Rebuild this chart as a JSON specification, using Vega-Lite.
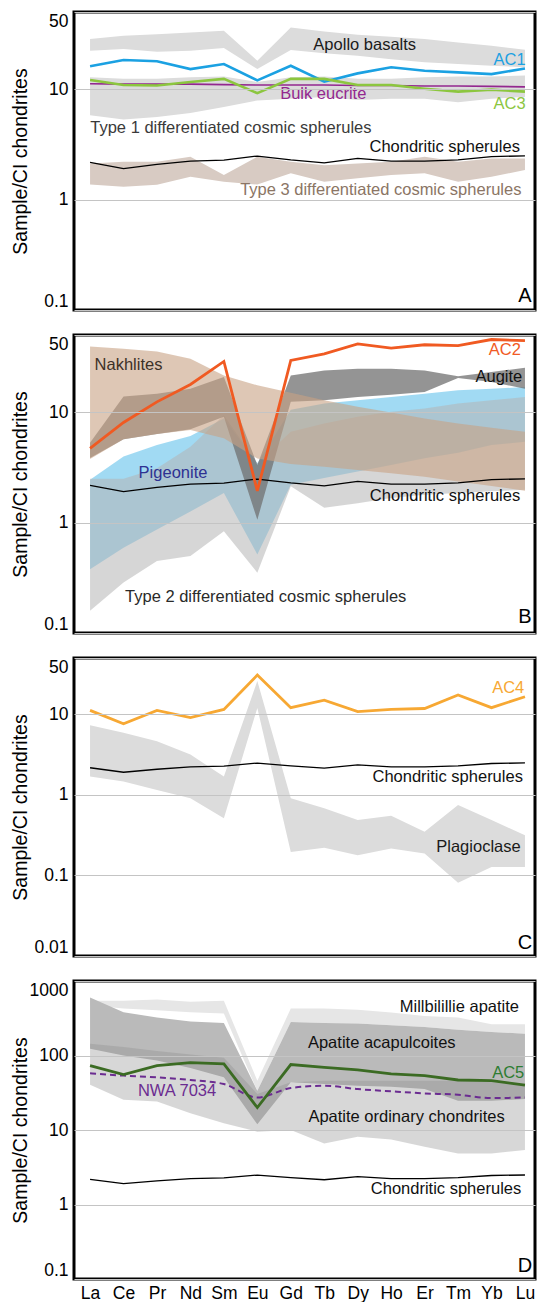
{
  "$schema": "https://vega.github.io/schema/vega-lite/v6.json",
  "background": "white",
  "padding": {"left": 8, "top": 10, "right": 2, "bottom": 0},
  "spacing": 25,
  "bounds": "flush",
  "config": {
    "font": "Liberation Sans",
    "view": {"stroke": "#000000", "strokeWidth": 3},
    "axis": {"labelFont": "Liberation Sans", "titleFont": "Liberation Sans"},
    "text": {"font": "Liberation Sans"}
  },
  "datasets": {
    "chondrite": [
      {"el": "La", "i": 0, "v": 2.17}, {"el": "Ce", "i": 1, "v": 1.91}, {"el": "Pr", "i": 2, "v": 2.08},
      {"el": "Nd", "i": 3, "v": 2.23}, {"el": "Sm", "i": 4, "v": 2.28}, {"el": "Eu", "i": 5, "v": 2.48},
      {"el": "Gd", "i": 6, "v": 2.29}, {"el": "Tb", "i": 7, "v": 2.15}, {"el": "Dy", "i": 8, "v": 2.36},
      {"el": "Ho", "i": 9, "v": 2.23}, {"el": "Er", "i": 10, "v": 2.23}, {"el": "Tm", "i": 11, "v": 2.29},
      {"el": "Yb", "i": 12, "v": 2.45}, {"el": "Lu", "i": 13, "v": 2.49}
    ],
    "profiles": [
      {"series": "AC1", "el": "La", "i": 0, "v": 16.1}, {"series": "AC1", "el": "Ce", "i": 1, "v": 18.4},
      {"series": "AC1", "el": "Pr", "i": 2, "v": 17.9}, {"series": "AC1", "el": "Nd", "i": 3, "v": 15.2},
      {"series": "AC1", "el": "Sm", "i": 4, "v": 16.9}, {"series": "AC1", "el": "Eu", "i": 5, "v": 12.0},
      {"series": "AC1", "el": "Gd", "i": 6, "v": 16.3}, {"series": "AC1", "el": "Tb", "i": 7, "v": 11.7},
      {"series": "AC1", "el": "Dy", "i": 8, "v": 13.9}, {"series": "AC1", "el": "Ho", "i": 9, "v": 15.8},
      {"series": "AC1", "el": "Er", "i": 10, "v": 14.7}, {"series": "AC1", "el": "Tm", "i": 11, "v": 14.2},
      {"series": "AC1", "el": "Yb", "i": 12, "v": 13.7}, {"series": "AC1", "el": "Lu", "i": 13, "v": 15.4},

      {"series": "AC3", "el": "La", "i": 0, "v": 12.1}, {"series": "AC3", "el": "Ce", "i": 1, "v": 10.9},
      {"series": "AC3", "el": "Pr", "i": 2, "v": 10.8}, {"series": "AC3", "el": "Nd", "i": 3, "v": 11.6},
      {"series": "AC3", "el": "Sm", "i": 4, "v": 12.4}, {"series": "AC3", "el": "Eu", "i": 5, "v": 9.2},
      {"series": "AC3", "el": "Gd", "i": 6, "v": 12.4}, {"series": "AC3", "el": "Tb", "i": 7, "v": 12.4},
      {"series": "AC3", "el": "Dy", "i": 8, "v": 10.9}, {"series": "AC3", "el": "Ho", "i": 9, "v": 10.9},
      {"series": "AC3", "el": "Er", "i": 10, "v": 10.1}, {"series": "AC3", "el": "Tm", "i": 11, "v": 9.5},
      {"series": "AC3", "el": "Yb", "i": 12, "v": 9.9}, {"series": "AC3", "el": "Lu", "i": 13, "v": 9.5},

      {"series": "Bulk eucrite", "el": "La", "i": 0, "v": 11.2}, {"series": "Bulk eucrite", "el": "Ce", "i": 1, "v": 11.1},
      {"series": "Bulk eucrite", "el": "Pr", "i": 2, "v": 11.1}, {"series": "Bulk eucrite", "el": "Nd", "i": 3, "v": 11.1},
      {"series": "Bulk eucrite", "el": "Sm", "i": 4, "v": 11.0}, {"series": "Bulk eucrite", "el": "Eu", "i": 5, "v": 10.9},
      {"series": "Bulk eucrite", "el": "Gd", "i": 6, "v": 10.9}, {"series": "Bulk eucrite", "el": "Tb", "i": 7, "v": 10.9},
      {"series": "Bulk eucrite", "el": "Dy", "i": 8, "v": 10.8}, {"series": "Bulk eucrite", "el": "Ho", "i": 9, "v": 10.8},
      {"series": "Bulk eucrite", "el": "Er", "i": 10, "v": 10.7}, {"series": "Bulk eucrite", "el": "Tm", "i": 11, "v": 10.7},
      {"series": "Bulk eucrite", "el": "Yb", "i": 12, "v": 10.6}, {"series": "Bulk eucrite", "el": "Lu", "i": 13, "v": 10.5},

      {"series": "AC2", "el": "La", "i": 0, "v": 4.71}, {"series": "AC2", "el": "Ce", "i": 1, "v": 8.07},
      {"series": "AC2", "el": "Pr", "i": 2, "v": 12.4}, {"series": "AC2", "el": "Nd", "i": 3, "v": 17.8},
      {"series": "AC2", "el": "Sm", "i": 4, "v": 28.8}, {"series": "AC2", "el": "Eu", "i": 5, "v": 1.94},
      {"series": "AC2", "el": "Gd", "i": 6, "v": 29.4}, {"series": "AC2", "el": "Tb", "i": 7, "v": 33.8},
      {"series": "AC2", "el": "Dy", "i": 8, "v": 41.6}, {"series": "AC2", "el": "Ho", "i": 9, "v": 38.0},
      {"series": "AC2", "el": "Er", "i": 10, "v": 40.8}, {"series": "AC2", "el": "Tm", "i": 11, "v": 40.1},
      {"series": "AC2", "el": "Yb", "i": 12, "v": 45.5}, {"series": "AC2", "el": "Lu", "i": 13, "v": 44.5},

      {"series": "AC4", "el": "La", "i": 0, "v": 11.2}, {"series": "AC4", "el": "Ce", "i": 1, "v": 7.65},
      {"series": "AC4", "el": "Pr", "i": 2, "v": 11.2}, {"series": "AC4", "el": "Nd", "i": 3, "v": 9.09},
      {"series": "AC4", "el": "Sm", "i": 4, "v": 11.5}, {"series": "AC4", "el": "Eu", "i": 5, "v": 30.7},
      {"series": "AC4", "el": "Gd", "i": 6, "v": 12.1}, {"series": "AC4", "el": "Tb", "i": 7, "v": 15.0},
      {"series": "AC4", "el": "Dy", "i": 8, "v": 10.8}, {"series": "AC4", "el": "Ho", "i": 9, "v": 11.5},
      {"series": "AC4", "el": "Er", "i": 10, "v": 11.8}, {"series": "AC4", "el": "Tm", "i": 11, "v": 17.4},
      {"series": "AC4", "el": "Yb", "i": 12, "v": 12.1}, {"series": "AC4", "el": "Lu", "i": 13, "v": 16.5},

      {"series": "AC5", "el": "La", "i": 0, "v": 73.3}, {"series": "AC5", "el": "Ce", "i": 1, "v": 55.4},
      {"series": "AC5", "el": "Pr", "i": 2, "v": 73.3}, {"series": "AC5", "el": "Nd", "i": 3, "v": 80.4},
      {"series": "AC5", "el": "Sm", "i": 4, "v": 77.2}, {"series": "AC5", "el": "Eu", "i": 5, "v": 20.0},
      {"series": "AC5", "el": "Gd", "i": 6, "v": 75.6}, {"series": "AC5", "el": "Tb", "i": 7, "v": 69.5},
      {"series": "AC5", "el": "Dy", "i": 8, "v": 64.0}, {"series": "AC5", "el": "Ho", "i": 9, "v": 56.5},
      {"series": "AC5", "el": "Er", "i": 10, "v": 53.7}, {"series": "AC5", "el": "Tm", "i": 11, "v": 46.9},
      {"series": "AC5", "el": "Yb", "i": 12, "v": 45.9}, {"series": "AC5", "el": "Lu", "i": 13, "v": 40.1},

      {"series": "NWA 7034", "el": "La", "i": 0, "v": 57.7}, {"series": "NWA 7034", "el": "Ce", "i": 1, "v": 53.7},
      {"series": "NWA 7034", "el": "Pr", "i": 2, "v": 51.0}, {"series": "NWA 7034", "el": "Nd", "i": 3, "v": 46.9},
      {"series": "NWA 7034", "el": "Sm", "i": 4, "v": 41.4}, {"series": "NWA 7034", "el": "Eu", "i": 5, "v": 27.3},
      {"series": "NWA 7034", "el": "Gd", "i": 6, "v": 36.6}, {"series": "NWA 7034", "el": "Tb", "i": 7, "v": 39.3},
      {"series": "NWA 7034", "el": "Dy", "i": 8, "v": 35.4}, {"series": "NWA 7034", "el": "Ho", "i": 9, "v": 33.0},
      {"series": "NWA 7034", "el": "Er", "i": 10, "v": 31.0}, {"series": "NWA 7034", "el": "Tm", "i": 11, "v": 29.7},
      {"series": "NWA 7034", "el": "Yb", "i": 12, "v": 26.8}, {"series": "NWA 7034", "el": "Lu", "i": 13, "v": 27.3}
    ],
    "ranges": [
      {"band": "Apollo basalts", "el": "La", "i": 0, "v": 22.3, "v2": 28.4}, {"band": "Apollo basalts", "el": "Ce", "i": 1, "v": 23.1, "v2": 30.4},
      {"band": "Apollo basalts", "el": "Pr", "i": 2, "v": 21.8, "v2": 31.5}, {"band": "Apollo basalts", "el": "Nd", "i": 3, "v": 22.3, "v2": 32.6},
      {"band": "Apollo basalts", "el": "Sm", "i": 4, "v": 23.6, "v2": 33.8}, {"band": "Apollo basalts", "el": "Eu", "i": 5, "v": 15.2, "v2": 18.1},
      {"band": "Apollo basalts", "el": "Gd", "i": 6, "v": 22.6, "v2": 36.2}, {"band": "Apollo basalts", "el": "Tb", "i": 7, "v": 21.1, "v2": 33.3},
      {"band": "Apollo basalts", "el": "Dy", "i": 8, "v": 20.1, "v2": 31.1}, {"band": "Apollo basalts", "el": "Ho", "i": 9, "v": 18.7, "v2": 29.8},
      {"band": "Apollo basalts", "el": "Er", "i": 10, "v": 17.5, "v2": 28.4}, {"band": "Apollo basalts", "el": "Tm", "i": 11, "v": 16.9, "v2": 26.5},
      {"band": "Apollo basalts", "el": "Yb", "i": 12, "v": 16.3, "v2": 24.7}, {"band": "Apollo basalts", "el": "Lu", "i": 13, "v": 15.8, "v2": 22.8},

      {"band": "Type 1", "el": "La", "i": 0, "v": 5.8, "v2": 12.8}, {"band": "Type 1", "el": "Ce", "i": 1, "v": 5.3, "v2": 12.4},
      {"band": "Type 1", "el": "Pr", "i": 2, "v": 5.6, "v2": 12.4}, {"band": "Type 1", "el": "Nd", "i": 3, "v": 6.1, "v2": 12.8},
      {"band": "Type 1", "el": "Sm", "i": 4, "v": 6.9, "v2": 13.0}, {"band": "Type 1", "el": "Eu", "i": 5, "v": 7.9, "v2": 11.6},
      {"band": "Type 1", "el": "Gd", "i": 6, "v": 8.2, "v2": 12.8}, {"band": "Type 1", "el": "Tb", "i": 7, "v": 8.5, "v2": 13.0},
      {"band": "Type 1", "el": "Dy", "i": 8, "v": 8.0, "v2": 12.4}, {"band": "Type 1", "el": "Ho", "i": 9, "v": 8.2, "v2": 12.4},
      {"band": "Type 1", "el": "Er", "i": 10, "v": 8.2, "v2": 12.8}, {"band": "Type 1", "el": "Tm", "i": 11, "v": 7.6, "v2": 13.0},
      {"band": "Type 1", "el": "Yb", "i": 12, "v": 8.2, "v2": 13.0}, {"band": "Type 1", "el": "Lu", "i": 13, "v": 8.5, "v2": 13.3},

      {"band": "Type 3", "el": "La", "i": 0, "v": 1.37, "v2": 2.12}, {"band": "Type 3", "el": "Ce", "i": 1, "v": 1.31, "v2": 2.2},
      {"band": "Type 3", "el": "Pr", "i": 2, "v": 1.36, "v2": 2.2}, {"band": "Type 3", "el": "Nd", "i": 3, "v": 1.61, "v2": 2.44},
      {"band": "Type 3", "el": "Sm", "i": 4, "v": 1.45, "v2": 1.67}, {"band": "Type 3", "el": "Eu", "i": 5, "v": 1.37, "v2": 2.44},
      {"band": "Type 3", "el": "Gd", "i": 6, "v": 1.73, "v2": 2.2}, {"band": "Type 3", "el": "Tb", "i": 7, "v": 1.45, "v2": 2.05},
      {"band": "Type 3", "el": "Dy", "i": 8, "v": 1.56, "v2": 2.12}, {"band": "Type 3", "el": "Ho", "i": 9, "v": 1.67, "v2": 2.2},
      {"band": "Type 3", "el": "Er", "i": 10, "v": 1.73, "v2": 2.44}, {"band": "Type 3", "el": "Tm", "i": 11, "v": 1.45, "v2": 2.2},
      {"band": "Type 3", "el": "Yb", "i": 12, "v": 1.61, "v2": 2.36}, {"band": "Type 3", "el": "Lu", "i": 13, "v": 1.85, "v2": 2.36},

      {"band": "Nakhlites", "el": "La", "i": 0, "v": 3.77, "v2": 39.3}, {"band": "Nakhlites", "el": "Ce", "i": 1, "v": 5.7, "v2": 37.5},
      {"band": "Nakhlites", "el": "Pr", "i": 2, "v": 6.35, "v2": 35.5}, {"band": "Nakhlites", "el": "Nd", "i": 3, "v": 6.9, "v2": 30.4},
      {"band": "Nakhlites", "el": "Sm", "i": 4, "v": 5.8, "v2": 21.5}, {"band": "Nakhlites", "el": "Eu", "i": 5, "v": 3.8, "v2": 17.5},
      {"band": "Nakhlites", "el": "Gd", "i": 6, "v": 3.4, "v2": 15.0}, {"band": "Nakhlites", "el": "Tb", "i": 7, "v": 3.2, "v2": 12.8},
      {"band": "Nakhlites", "el": "Dy", "i": 8, "v": 3.0, "v2": 11.2}, {"band": "Nakhlites", "el": "Ho", "i": 9, "v": 2.8, "v2": 9.93},
      {"band": "Nakhlites", "el": "Er", "i": 10, "v": 2.6, "v2": 8.77}, {"band": "Nakhlites", "el": "Tm", "i": 11, "v": 2.35, "v2": 7.91},
      {"band": "Nakhlites", "el": "Yb", "i": 12, "v": 2.15, "v2": 7.22}, {"band": "Nakhlites", "el": "Lu", "i": 13, "v": 1.94, "v2": 6.65},

      {"band": "Augite", "el": "La", "i": 0, "v": 3.85, "v2": 5.29}, {"band": "Augite", "el": "Ce", "i": 1, "v": 5.7, "v2": 13.9},
      {"band": "Augite", "el": "Pr", "i": 2, "v": 6.35, "v2": 14.7}, {"band": "Augite", "el": "Nd", "i": 3, "v": 7.0, "v2": 16.3},
      {"band": "Augite", "el": "Sm", "i": 4, "v": 9.08, "v2": 20.8}, {"band": "Augite", "el": "Eu", "i": 5, "v": 1.06, "v2": 3.33},
      {"band": "Augite", "el": "Gd", "i": 6, "v": 12.4, "v2": 21.5}, {"band": "Augite", "el": "Tb", "i": 7, "v": 12.8, "v2": 23.9},
      {"band": "Augite", "el": "Dy", "i": 8, "v": 13.7, "v2": 24.7}, {"band": "Augite", "el": "Ho", "i": 9, "v": 14.4, "v2": 24.7},
      {"band": "Augite", "el": "Er", "i": 10, "v": 15.2, "v2": 23.9}, {"band": "Augite", "el": "Tm", "i": 11, "v": 20.4, "v2": 21.2},
      {"band": "Augite", "el": "Yb", "i": 12, "v": 18.8, "v2": 23.1}, {"band": "Augite", "el": "Lu", "i": 13, "v": 16.3, "v2": 25.3},

      {"band": "Pigeonite", "el": "La", "i": 0, "v": 0.377, "v2": 2.44}, {"band": "Pigeonite", "el": "Ce", "i": 1, "v": 0.591, "v2": 3.96},
      {"band": "Pigeonite", "el": "Pr", "i": 2, "v": 0.865, "v2": 5.04}, {"band": "Pigeonite", "el": "Nd", "i": 3, "v": 1.26, "v2": 6.08},
      {"band": "Pigeonite", "el": "Sm", "i": 4, "v": 1.85, "v2": 8.77}, {"band": "Pigeonite", "el": "Eu", "i": 5, "v": 0.515, "v2": 3.45},
      {"band": "Pigeonite", "el": "Gd", "i": 6, "v": 2.2, "v2": 10.5}, {"band": "Pigeonite", "el": "Tb", "i": 7, "v": 2.53, "v2": 12.0},
      {"band": "Pigeonite", "el": "Dy", "i": 8, "v": 2.9, "v2": 12.8}, {"band": "Pigeonite", "el": "Ho", "i": 9, "v": 3.33, "v2": 13.7},
      {"band": "Pigeonite", "el": "Er", "i": 10, "v": 3.83, "v2": 14.7}, {"band": "Pigeonite", "el": "Tm", "i": 11, "v": 4.3, "v2": 15.8},
      {"band": "Pigeonite", "el": "Yb", "i": 12, "v": 5.04, "v2": 16.3}, {"band": "Pigeonite", "el": "Lu", "i": 13, "v": 5.4, "v2": 16.9},

      {"band": "Type 2", "el": "La", "i": 0, "v": 0.159, "v2": 2.49}, {"band": "Type 2", "el": "Ce", "i": 1, "v": 0.286, "v2": 2.49},
      {"band": "Type 2", "el": "Pr", "i": 2, "v": 0.449, "v2": 3.11}, {"band": "Type 2", "el": "Nd", "i": 3, "v": 0.497, "v2": 4.87},
      {"band": "Type 2", "el": "Sm", "i": 4, "v": 0.835, "v2": 9.4}, {"band": "Type 2", "el": "Eu", "i": 5, "v": 0.352, "v2": 3.45},
      {"band": "Type 2", "el": "Gd", "i": 6, "v": 2.13, "v2": 6.65}, {"band": "Type 2", "el": "Tb", "i": 7, "v": 1.36, "v2": 7.91},
      {"band": "Type 2", "el": "Dy", "i": 8, "v": 1.5, "v2": 9.08}, {"band": "Type 2", "el": "Ho", "i": 9, "v": 1.67, "v2": 10.1},
      {"band": "Type 2", "el": "Er", "i": 10, "v": 1.79, "v2": 10.8}, {"band": "Type 2", "el": "Tm", "i": 11, "v": 1.85, "v2": 12.0},
      {"band": "Type 2", "el": "Yb", "i": 12, "v": 1.92, "v2": 12.8}, {"band": "Type 2", "el": "Lu", "i": 13, "v": 1.98, "v2": 13.7},

      {"band": "Plagioclase", "el": "La", "i": 0, "v": 1.69, "v2": 7.29}, {"band": "Plagioclase", "el": "Ce", "i": 1, "v": 1.47, "v2": 5.9},
      {"band": "Plagioclase", "el": "Pr", "i": 2, "v": 1.15, "v2": 4.64}, {"band": "Plagioclase", "el": "Nd", "i": 3, "v": 0.908, "v2": 3.16},
      {"band": "Plagioclase", "el": "Sm", "i": 4, "v": 0.511, "v2": 1.69}, {"band": "Plagioclase", "el": "Eu", "i": 5, "v": 12, "v2": 26},
      {"band": "Plagioclase", "el": "Gd", "i": 6, "v": 0.196, "v2": 0.908}, {"band": "Plagioclase", "el": "Tb", "i": 7, "v": 0.22, "v2": 0.681},
      {"band": "Plagioclase", "el": "Dy", "i": 8, "v": 0.178, "v2": 0.487}, {"band": "Plagioclase", "el": "Ho", "i": 9, "v": 0.216, "v2": 0.552},
      {"band": "Plagioclase", "el": "Er", "i": 10, "v": 0.187, "v2": 0.348}, {"band": "Plagioclase", "el": "Tm", "i": 11, "v": 0.081, "v2": 0.75},
      {"band": "Plagioclase", "el": "Yb", "i": 12, "v": 0.127, "v2": 0.487}, {"band": "Plagioclase", "el": "Lu", "i": 13, "v": 0.127, "v2": 0.316},

      {"band": "Millbillillie", "el": "La", "i": 0, "v": 474, "v2": 542}, {"band": "Millbillillie", "el": "Ce", "i": 1, "v": 427, "v2": 542},
      {"band": "Millbillillie", "el": "Pr", "i": 2, "v": 405, "v2": 565}, {"band": "Millbillillie", "el": "Nd", "i": 3, "v": 381, "v2": 526},
      {"band": "Millbillillie", "el": "Sm", "i": 4, "v": 366, "v2": 542}, {"band": "Millbillillie", "el": "Eu", "i": 5, "v": 33.7, "v2": 45.9},
      {"band": "Millbillillie", "el": "Gd", "i": 6, "v": 282, "v2": 427}, {"band": "Millbillillie", "el": "Tb", "i": 7, "v": 273, "v2": 427},
      {"band": "Millbillillie", "el": "Dy", "i": 8, "v": 268, "v2": 410}, {"band": "Millbillillie", "el": "Ho", "i": 9, "v": 254, "v2": 377},
      {"band": "Millbillillie", "el": "Er", "i": 10, "v": 241, "v2": 340}, {"band": "Millbillillie", "el": "Tm", "i": 11, "v": 222, "v2": 323},
      {"band": "Millbillillie", "el": "Yb", "i": 12, "v": 207, "v2": 262}, {"band": "Millbillillie", "el": "Lu", "i": 13, "v": 196, "v2": 262},

      {"band": "Acapulcoites", "el": "La", "i": 0, "v": 123, "v2": 601}, {"band": "Acapulcoites", "el": "Ce", "i": 1, "v": 100, "v2": 381},
      {"band": "Acapulcoites", "el": "Pr", "i": 2, "v": 85.6, "v2": 323}, {"band": "Acapulcoites", "el": "Nd", "i": 3, "v": 68.1, "v2": 285},
      {"band": "Acapulcoites", "el": "Sm", "i": 4, "v": 51, "v2": 273}, {"band": "Acapulcoites", "el": "Eu", "i": 5, "v": 11.9, "v2": 33.7},
      {"band": "Acapulcoites", "el": "Gd", "i": 6, "v": 43.6, "v2": 282}, {"band": "Acapulcoites", "el": "Tb", "i": 7, "v": 41.4, "v2": 273},
      {"band": "Acapulcoites", "el": "Dy", "i": 8, "v": 39.3, "v2": 268}, {"band": "Acapulcoites", "el": "Ho", "i": 9, "v": 38.1, "v2": 254},
      {"band": "Acapulcoites", "el": "Er", "i": 10, "v": 35.4, "v2": 241}, {"band": "Acapulcoites", "el": "Tm", "i": 11, "v": 24.7, "v2": 222},
      {"band": "Acapulcoites", "el": "Yb", "i": 12, "v": 24.7, "v2": 207}, {"band": "Acapulcoites", "el": "Lu", "i": 13, "v": 26, "v2": 196},

      {"band": "Ordinary chondrites", "el": "La", "i": 0, "v": 40.6, "v2": 144}, {"band": "Ordinary chondrites", "el": "Ce", "i": 1, "v": 25.4, "v2": 130},
      {"band": "Ordinary chondrites", "el": "Pr", "i": 2, "v": 24.1, "v2": 115}, {"band": "Ordinary chondrites", "el": "Nd", "i": 3, "v": 16.8, "v2": 103},
      {"band": "Ordinary chondrites", "el": "Sm", "i": 4, "v": 12.3, "v2": 93}, {"band": "Ordinary chondrites", "el": "Eu", "i": 5, "v": 9.5, "v2": 30.4},
      {"band": "Ordinary chondrites", "el": "Gd", "i": 6, "v": 10, "v2": 43.6}, {"band": "Ordinary chondrites", "el": "Tb", "i": 7, "v": 6.6, "v2": 45.9},
      {"band": "Ordinary chondrites", "el": "Dy", "i": 8, "v": 8.13, "v2": 45.9}, {"band": "Ordinary chondrites", "el": "Ho", "i": 9, "v": 7.48, "v2": 45.9},
      {"band": "Ordinary chondrites", "el": "Er", "i": 10, "v": 5.96, "v2": 45.9}, {"band": "Ordinary chondrites", "el": "Tm", "i": 11, "v": 4.84, "v2": 45.9},
      {"band": "Ordinary chondrites", "el": "Yb", "i": 12, "v": 4.84, "v2": 43.6}, {"band": "Ordinary chondrites", "el": "Lu", "i": 13, "v": 5.37, "v2": 39.3}
    ],
    "notes": [
      {"panel": "A", "text": "Apollo basalts", "i": 8.21, "v": 24.9},
      {"panel": "A", "text": "AC1", "i": 12.54, "v": 18.2},
      {"panel": "A", "text": "Bulk eucrite", "i": 6.97, "v": 9.02},
      {"panel": "A", "text": "AC3", "i": 12.54, "v": 7.32},
      {"panel": "A", "text": "Type 1 differentiated cosmic spherules", "i": 4.21, "v": 4.45},
      {"panel": "A", "text": "Chondritic spherules", "i": 10.6, "v": 3.0},
      {"panel": "A", "text": "Type 3 differentiated cosmic spherules", "i": 8.69, "v": 1.23},
      {"panel": "B", "text": "Nakhlites", "i": 1.15, "v": 26.9},
      {"panel": "B", "text": "AC2", "i": 12.4, "v": 36.2},
      {"panel": "B", "text": "Augite", "i": 12.22, "v": 20.8},
      {"panel": "B", "text": "Pigeonite", "i": 2.48, "v": 2.84},
      {"panel": "B", "text": "Chondritic spherules", "i": 10.61, "v": 1.75},
      {"panel": "B", "text": "Type 2 differentiated cosmic spherules", "i": 5.25, "v": 0.212},
      {"panel": "C", "text": "AC4", "i": 12.5, "v": 21.1},
      {"panel": "C", "text": "Chondritic spherules", "i": 10.69, "v": 1.66},
      {"panel": "C", "text": "Plagioclase", "i": 11.61, "v": 0.226},
      {"panel": "D", "text": "Millbilillie apatite", "i": 11.04, "v": 441},
      {"panel": "D", "text": "Apatite acapulcoites", "i": 8.72, "v": 148.5},
      {"panel": "D", "text": "AC5", "i": 12.5, "v": 58.3},
      {"panel": "D", "text": "NWA 7034", "i": 2.6, "v": 32.9},
      {"panel": "D", "text": "Apatite ordinary chondrites", "i": 9.46, "v": 15.1},
      {"panel": "D", "text": "Chondritic spherules", "i": 10.64, "v": 1.63}
    ],
    "letters": [
      {"panel": "A", "text": "A", "i": 13.0, "v": 0.134},
      {"panel": "B", "text": "B", "i": 13.0, "v": 0.139},
      {"panel": "C", "text": "C", "i": 13.0, "v": 0.0147},
      {"panel": "D", "text": "D", "i": 13.0, "v": 0.15}
    ]
  },
  "vconcat": [
    {
      "width": 461,
      "height": 298,
      "encoding": {
        "x": {"field": "i", "type": "quantitative", "scale": {"domain": [-0.48, 13.3], "nice": false, "zero": false}, "axis": null},
        "y": {"field": "v", "type": "quantitative",
          "scale": {"type": "log", "domain": [0.1, 50], "nice": false},
          "axis": {"values": [0.1, 1, 10, 50], "format": "~g", "title": "Sample/CI chondrites", "titleFontSize": 19.5, "titleFontWeight": "normal", "titleColor": "#000000", "titleX": -44, "titleY": 149, "labelFontSize": 17.5, "labelColor": "#000000", "labelPadding": 6, "labelFlush": true, "ticks": false, "domain": false, "grid": true, "gridColor": "#c4c4c4", "gridWidth": 1, "zindex": 1}}
      },
      "layer": [
        {"data": {"name": "ranges"}, "transform": [{"filter": "datum.band === 'Apollo basalts'"}], "mark": {"type": "area", "color": "#dcdcdc", "opacity": 1}, "encoding": {"y2": {"field": "v2"}}},
        {"data": {"name": "ranges"}, "transform": [{"filter": "datum.band === 'Type 1'"}], "mark": {"type": "area", "color": "#dcdcdc", "opacity": 1}, "encoding": {"y2": {"field": "v2"}}},
        {"data": {"name": "ranges"}, "transform": [{"filter": "datum.band === 'Type 3'"}], "mark": {"type": "area", "color": "#d8cbc3", "opacity": 1}, "encoding": {"y2": {"field": "v2"}}},
        {"data": {"name": "chondrite"}, "mark": {"type": "line", "color": "#000000", "strokeWidth": 1.3}, "encoding": {}},
        {"data": {"name": "profiles"}, "transform": [{"filter": "datum.series === 'Bulk eucrite'"}], "mark": {"type": "line", "color": "#93278f", "strokeWidth": 1.6}, "encoding": {}},
        {"data": {"name": "profiles"}, "transform": [{"filter": "datum.series === 'AC1'"}], "mark": {"type": "line", "color": "#1ba1e2", "strokeWidth": 2.6}, "encoding": {}},
        {"data": {"name": "profiles"}, "transform": [{"filter": "datum.series === 'AC3'"}], "mark": {"type": "line", "color": "#8cc63f", "strokeWidth": 2.6}, "encoding": {}},
        {"data": {"name": "notes"}, "transform": [{"filter": "datum.panel === 'A'"}], "mark": {"type": "text", "fontSize": 16.5, "align": "center", "baseline": "middle"},
          "encoding": {"text": {"field": "text"}, "color": {"field": "text", "type": "nominal", "legend": null,
            "scale": {"domain": ["Apollo basalts", "AC1", "Bulk eucrite", "AC3", "Type 1 differentiated cosmic spherules", "Chondritic spherules", "Type 3 differentiated cosmic spherules", "Nakhlites", "AC2", "Augite", "Pigeonite", "Type 2 differentiated cosmic spherules", "AC4", "Plagioclase", "Millbilillie apatite", "Apatite acapulcoites", "AC5", "NWA 7034", "Apatite ordinary chondrites"],
              "range": ["#1a1a1a", "#1ba1e2", "#93278f", "#8cc63f", "#3a3a3a", "#111111", "#8b7565", "#3d3128", "#f15a24", "#111111", "#2e3192", "#2a2a2a", "#f7a833", "#1a1a1a", "#111111", "#111111", "#2e7d32", "#6b2c91", "#111111"]}}}},
        {"data": {"name": "letters"}, "transform": [{"filter": "datum.panel === 'A'"}], "mark": {"type": "text", "fontSize": 20, "color": "#000000", "align": "center", "baseline": "middle"}, "encoding": {"text": {"field": "text"}}}
      ]
    },
    {
      "width": 461,
      "height": 298,
      "encoding": {
        "x": {"field": "i", "type": "quantitative", "scale": {"domain": [-0.48, 13.3], "nice": false, "zero": false}, "axis": null},
        "y": {"field": "v", "type": "quantitative",
          "scale": {"type": "log", "domain": [0.1, 50], "nice": false},
          "axis": {"values": [0.1, 1, 10, 50], "format": "~g", "title": "Sample/CI chondrites", "titleFontSize": 19.5, "titleFontWeight": "normal", "titleColor": "#000000", "titleX": -44, "titleY": 149, "labelFontSize": 17.5, "labelColor": "#000000", "labelPadding": 6, "labelFlush": true, "ticks": false, "domain": false, "grid": true, "gridColor": "#c4c4c4", "gridWidth": 1, "zindex": 1}}
      },
      "layer": [
        {"data": {"name": "ranges"}, "transform": [{"filter": "datum.band === 'Pigeonite'"}], "mark": {"type": "area", "color": "#6ec6ec", "opacity": 0.65}, "encoding": {"y2": {"field": "v2"}}},
        {"data": {"name": "ranges"}, "transform": [{"filter": "datum.band === 'Type 2'"}], "mark": {"type": "area", "color": "#b4b4b4", "opacity": 0.55}, "encoding": {"y2": {"field": "v2"}}},
        {"data": {"name": "ranges"}, "transform": [{"filter": "datum.band === 'Augite'"}], "mark": {"type": "area", "color": "#707070", "opacity": 0.75}, "encoding": {"y2": {"field": "v2"}}},
        {"data": {"name": "ranges"}, "transform": [{"filter": "datum.band === 'Nakhlites'"}], "mark": {"type": "area", "color": "#c8a283", "opacity": 0.6}, "encoding": {"y2": {"field": "v2"}}},
        {"data": {"name": "chondrite"}, "mark": {"type": "line", "color": "#000000", "strokeWidth": 1.3}, "encoding": {}},
        {"data": {"name": "profiles"}, "transform": [{"filter": "datum.series === 'AC2'"}], "mark": {"type": "line", "color": "#f05a22", "strokeWidth": 2.8}, "encoding": {}},
        {"data": {"name": "notes"}, "transform": [{"filter": "datum.panel === 'B'"}], "mark": {"type": "text", "fontSize": 16.5, "align": "center", "baseline": "middle"},
          "encoding": {"text": {"field": "text"}, "color": {"field": "text", "type": "nominal", "legend": null,
            "scale": {"domain": ["Apollo basalts", "AC1", "Bulk eucrite", "AC3", "Type 1 differentiated cosmic spherules", "Chondritic spherules", "Type 3 differentiated cosmic spherules", "Nakhlites", "AC2", "Augite", "Pigeonite", "Type 2 differentiated cosmic spherules", "AC4", "Plagioclase", "Millbilillie apatite", "Apatite acapulcoites", "AC5", "NWA 7034", "Apatite ordinary chondrites"],
              "range": ["#1a1a1a", "#1ba1e2", "#93278f", "#8cc63f", "#3a3a3a", "#111111", "#8b7565", "#3d3128", "#f15a24", "#111111", "#2e3192", "#2a2a2a", "#f7a833", "#1a1a1a", "#111111", "#111111", "#2e7d32", "#6b2c91", "#111111"]}}}},
        {"data": {"name": "letters"}, "transform": [{"filter": "datum.panel === 'B'"}], "mark": {"type": "text", "fontSize": 20, "color": "#000000", "align": "center", "baseline": "middle"}, "encoding": {"text": {"field": "text"}}}
      ]
    },
    {
      "width": 461,
      "height": 298,
      "encoding": {
        "x": {"field": "i", "type": "quantitative", "scale": {"domain": [-0.48, 13.3], "nice": false, "zero": false}, "axis": null},
        "y": {"field": "v", "type": "quantitative",
          "scale": {"type": "log", "domain": [0.01, 50], "nice": false},
          "axis": {"values": [0.01, 0.1, 1, 10, 50], "format": "~g", "title": "Sample/CI chondrites", "titleFontSize": 19.5, "titleFontWeight": "normal", "titleColor": "#000000", "titleX": -44, "titleY": 149, "labelFontSize": 17.5, "labelColor": "#000000", "labelPadding": 6, "labelFlush": true, "ticks": false, "domain": false, "grid": true, "gridColor": "#c4c4c4", "gridWidth": 1, "zindex": 1}}
      },
      "layer": [
        {"data": {"name": "ranges"}, "transform": [{"filter": "datum.band === 'Plagioclase'"}], "mark": {"type": "area", "color": "#dcdcdc", "opacity": 1}, "encoding": {"y2": {"field": "v2"}}},
        {"data": {"name": "chondrite"}, "mark": {"type": "line", "color": "#000000", "strokeWidth": 1.3}, "encoding": {}},
        {"data": {"name": "profiles"}, "transform": [{"filter": "datum.series === 'AC4'"}], "mark": {"type": "line", "color": "#f7a833", "strokeWidth": 2.8}, "encoding": {}},
        {"data": {"name": "notes"}, "transform": [{"filter": "datum.panel === 'C'"}], "mark": {"type": "text", "fontSize": 16.5, "align": "center", "baseline": "middle"},
          "encoding": {"text": {"field": "text"}, "color": {"field": "text", "type": "nominal", "legend": null,
            "scale": {"domain": ["Apollo basalts", "AC1", "Bulk eucrite", "AC3", "Type 1 differentiated cosmic spherules", "Chondritic spherules", "Type 3 differentiated cosmic spherules", "Nakhlites", "AC2", "Augite", "Pigeonite", "Type 2 differentiated cosmic spherules", "AC4", "Plagioclase", "Millbilillie apatite", "Apatite acapulcoites", "AC5", "NWA 7034", "Apatite ordinary chondrites"],
              "range": ["#1a1a1a", "#1ba1e2", "#93278f", "#8cc63f", "#3a3a3a", "#111111", "#8b7565", "#3d3128", "#f15a24", "#111111", "#2e3192", "#2a2a2a", "#f7a833", "#1a1a1a", "#111111", "#111111", "#2e7d32", "#6b2c91", "#111111"]}}}},
        {"data": {"name": "letters"}, "transform": [{"filter": "datum.panel === 'C'"}], "mark": {"type": "text", "fontSize": 20, "color": "#000000", "align": "center", "baseline": "middle"}, "encoding": {"text": {"field": "text"}}}
      ]
    },
    {
      "width": 461,
      "height": 298,
      "encoding": {
        "x": {"field": "i", "type": "quantitative", "scale": {"domain": [-0.48, 13.3], "nice": false, "zero": false},
          "axis": {"values": [0, 1, 2, 3, 4, 5, 6, 7, 8, 9, 10, 11, 12, 13], "labelExpr": "['La','Ce','Pr','Nd','Sm','Eu','Gd','Tb','Dy','Ho','Er','Tm','Yb','Lu'][datum.value]", "title": null, "ticks": false, "domain": false, "grid": false, "labelFontSize": 17.5, "labelColor": "#000000", "labelPadding": 5, "labelFlush": false}},
        "y": {"field": "v", "type": "quantitative",
          "scale": {"type": "log", "domain": [0.1, 1000], "nice": false},
          "axis": {"values": [0.1, 1, 10, 100, 1000], "format": "~g", "title": "Sample/CI chondrites", "titleFontSize": 19.5, "titleFontWeight": "normal", "titleColor": "#000000", "titleX": -44, "titleY": 149, "labelFontSize": 17.5, "labelColor": "#000000", "labelPadding": 6, "labelFlush": true, "ticks": false, "domain": false, "grid": true, "gridColor": "#c4c4c4", "gridWidth": 1, "zindex": 1}}
      },
      "layer": [
        {"data": {"name": "ranges"}, "transform": [{"filter": "datum.band === 'Millbillillie'"}], "mark": {"type": "area", "color": "#e6e6e6", "opacity": 1}, "encoding": {"y2": {"field": "v2"}}},
        {"data": {"name": "ranges"}, "transform": [{"filter": "datum.band === 'Acapulcoites'"}], "mark": {"type": "area", "color": "#bababa", "opacity": 1}, "encoding": {"y2": {"field": "v2"}}},
        {"data": {"name": "ranges"}, "transform": [{"filter": "datum.band === 'Ordinary chondrites'"}], "mark": {"type": "area", "color": "#8c8c8c", "opacity": 0.35}, "encoding": {"y2": {"field": "v2"}}},
        {"data": {"name": "chondrite"}, "mark": {"type": "line", "color": "#000000", "strokeWidth": 1.3}, "encoding": {}},
        {"data": {"name": "profiles"}, "transform": [{"filter": "datum.series === 'NWA 7034'"}], "mark": {"type": "line", "color": "#6b2c91", "strokeWidth": 2, "strokeDash": [6, 4], "interpolate": "monotone"}, "encoding": {}},
        {"data": {"name": "profiles"}, "transform": [{"filter": "datum.series === 'AC5'"}], "mark": {"type": "line", "color": "#3b6b23", "strokeWidth": 2.8}, "encoding": {}},
        {"data": {"name": "notes"}, "transform": [{"filter": "datum.panel === 'D'"}], "mark": {"type": "text", "fontSize": 16.5, "align": "center", "baseline": "middle"},
          "encoding": {"text": {"field": "text"}, "color": {"field": "text", "type": "nominal", "legend": null,
            "scale": {"domain": ["Apollo basalts", "AC1", "Bulk eucrite", "AC3", "Type 1 differentiated cosmic spherules", "Chondritic spherules", "Type 3 differentiated cosmic spherules", "Nakhlites", "AC2", "Augite", "Pigeonite", "Type 2 differentiated cosmic spherules", "AC4", "Plagioclase", "Millbilillie apatite", "Apatite acapulcoites", "AC5", "NWA 7034", "Apatite ordinary chondrites"],
              "range": ["#1a1a1a", "#1ba1e2", "#93278f", "#8cc63f", "#3a3a3a", "#111111", "#8b7565", "#3d3128", "#f15a24", "#111111", "#2e3192", "#2a2a2a", "#f7a833", "#1a1a1a", "#111111", "#111111", "#2e7d32", "#6b2c91", "#111111"]}}}},
        {"data": {"name": "letters"}, "transform": [{"filter": "datum.panel === 'D'"}], "mark": {"type": "text", "fontSize": 20, "color": "#000000", "align": "center", "baseline": "middle"}, "encoding": {"text": {"field": "text"}}}
      ]
    }
  ]
}
